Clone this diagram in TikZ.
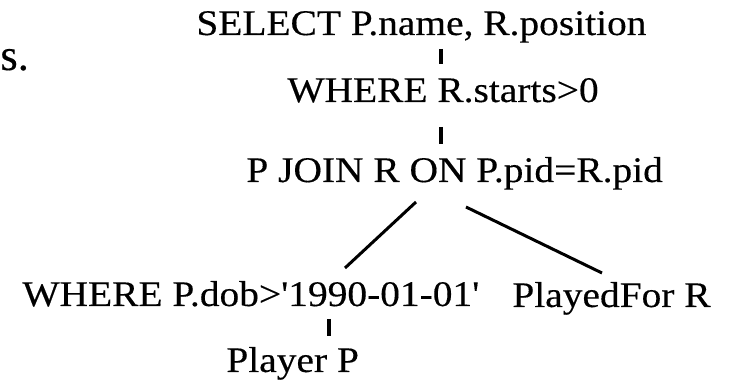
\documentclass[tikz,border=0pt]{standalone}
\usepackage{fontspec}
\setmainfont{Liberation Serif}
\usepackage{graphicx}
% slightly widened serif labels
\newcommand{\wide}[1]{\scalebox{1.095}[1]{#1}}
\tikzset{
  lbl/.style={anchor=base west, inner sep=0pt, font=\fontsize{18}{21}\selectfont\addfontfeature{FakeBold=0.3}},
  big/.style={anchor=base west, inner sep=0pt, font=\fontsize{22.3}{26}\selectfont\addfontfeature{FakeBold=0.3}},
  tick/.style={line width=1.65pt},
  edge/.style={line width=1.5pt},
}
\begin{document}
\begin{tikzpicture}[x=0.5pt,y=-0.5pt]
\useasboundingbox (0,0) rectangle (730,384);

% query plan, one operator per line
\node[big] (lead) at (0,70)    {s.};
\node[lbl] (sel)  at (196,35)  {\wide{SELECT P.name, R.position}};
\node[lbl] (wr)   at (287,102) {\wide{WHERE R.starts>0}};
\node[lbl] (join) at (246,182) {\wide{P JOIN R ON P.pid=R.pid}};
\node[lbl] (wp)   at (22,306)  {\wide{WHERE P.dob>\textquotesingle1990-01-01\textquotesingle}};
\node[lbl] (pf)   at (512,307) {\wide{PlayedFor R}};
\node[lbl] (pl)   at (226,372) {\wide{Player P}};

% end points of the short links between operators
\coordinate (t1a) at (441,49);  \coordinate (t1b) at (441,64);
\coordinate (t2a) at (441,127); \coordinate (t2b) at (441,144);
\coordinate (t3a) at (329,319); \coordinate (t3b) at (329,336);
\coordinate (ja)  at (416,202); \coordinate (jb)  at (345,268);
\coordinate (jc)  at (466,207); \coordinate (jd)  at (602,273);

\draw[tick] (t1a) -- (t1b);
\draw[tick] (t2a) -- (t2b);
\draw[tick] (t3a) -- (t3b);
\draw[edge] (ja) -- (jb);
\draw[edge] (jc) -- (jd);
\end{tikzpicture}
\end{document}
